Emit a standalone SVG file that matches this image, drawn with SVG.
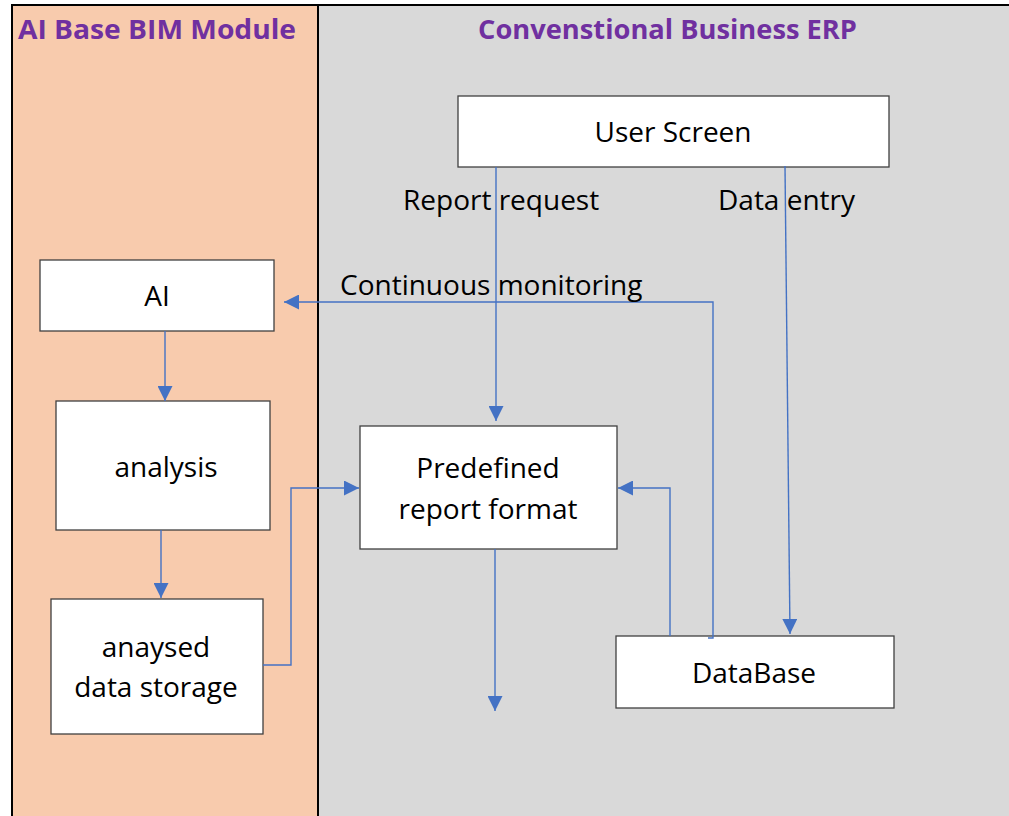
<svg xmlns="http://www.w3.org/2000/svg" width="1009" height="816" viewBox="0 0 1009 816">
<defs>
<style>
.box{fill:#fff;stroke:#404040;stroke-width:1.3}
.t{font-family:"Open Sans","Liberation Sans",sans-serif;font-size:28px;fill:#000}
.h{font-family:"Open Sans","Liberation Sans",sans-serif;font-size:26px;font-weight:bold;fill:#7030A0}
.c{fill:none;stroke:#4472C4;stroke-width:1.4}
</style>
<marker id="ah" markerWidth="15" markerHeight="15" refX="10" refY="5" orient="auto" markerUnits="userSpaceOnUse" viewBox="0 0 10 10">
<path d="M0,0 L10,5 L0,10 z" fill="#4472C4"/>
</marker>
</defs>
<rect x="0" y="0" width="1009" height="816" fill="#fff"/>
<rect x="12" y="5" width="306" height="811" fill="#F8CBAD"/>
<rect x="318" y="5" width="691" height="811" fill="#D9D9D9"/>
<line x1="12" y1="5" x2="1009" y2="5" stroke="#000" stroke-width="2"/>
<line x1="12" y1="4" x2="12" y2="816" stroke="#000" stroke-width="2"/>
<line x1="318" y1="5" x2="318" y2="816" stroke="#000" stroke-width="2"/>
<text class="h" x="18" y="39" textLength="278" lengthAdjust="spacingAndGlyphs">AI Base BIM Module</text>
<text class="h" x="478" y="39" textLength="379" lengthAdjust="spacingAndGlyphs">Convenstional Business ERP</text>

<g id="user-screen"><rect class="box" x="458" y="96" width="431" height="71"/><text class="t" x="673" y="142" text-anchor="middle">User Screen</text></g>
<g id="ai"><rect class="box" x="40" y="260" width="234" height="71"/><text class="t" x="157" y="306" text-anchor="middle">AI</text></g>
<g id="analysis"><rect class="box" x="56" y="401" width="214" height="129"/><text class="t" x="166" y="477" text-anchor="middle">analysis</text></g>
<g id="storage"><rect class="box" x="51" y="599" width="212" height="135"/><text class="t" x="156" y="657" text-anchor="middle">anaysed</text><text class="t" x="156" y="697" text-anchor="middle">data storage</text></g>
<g id="report"><rect class="box" x="360" y="426" width="257" height="123"/><text class="t" x="488" y="478" text-anchor="middle">Predefined</text><text class="t" x="488" y="519" text-anchor="middle">report format</text></g>
<g id="database"><rect class="box" x="616" y="636" width="278" height="72"/><text class="t" x="754" y="683" text-anchor="middle">DataBase</text></g>

<g id="connectors">
<path class="c" d="M496,167 V421" marker-end="url(#ah)"/>
<path class="c" d="M785,166 L790,634" marker-end="url(#ah)"/>
<path class="c" d="M708,638 H713 V302 H284" marker-end="url(#ah)"/>
<path class="c" d="M165,331 V401" marker-end="url(#ah)"/>
<path class="c" d="M161,530 V598" marker-end="url(#ah)"/>
<path class="c" d="M263,665 H291 V488 H359" marker-end="url(#ah)"/>
<path class="c" d="M670,636 V488 H618" marker-end="url(#ah)"/>
<path class="c" d="M495,549 V711" marker-end="url(#ah)"/>
<text class="t" x="403" y="210">Report request</text>
<text class="t" x="718" y="210">Data entry</text>
<text class="t" x="340" y="295">Continuous monitoring</text>
</g>
</svg>
